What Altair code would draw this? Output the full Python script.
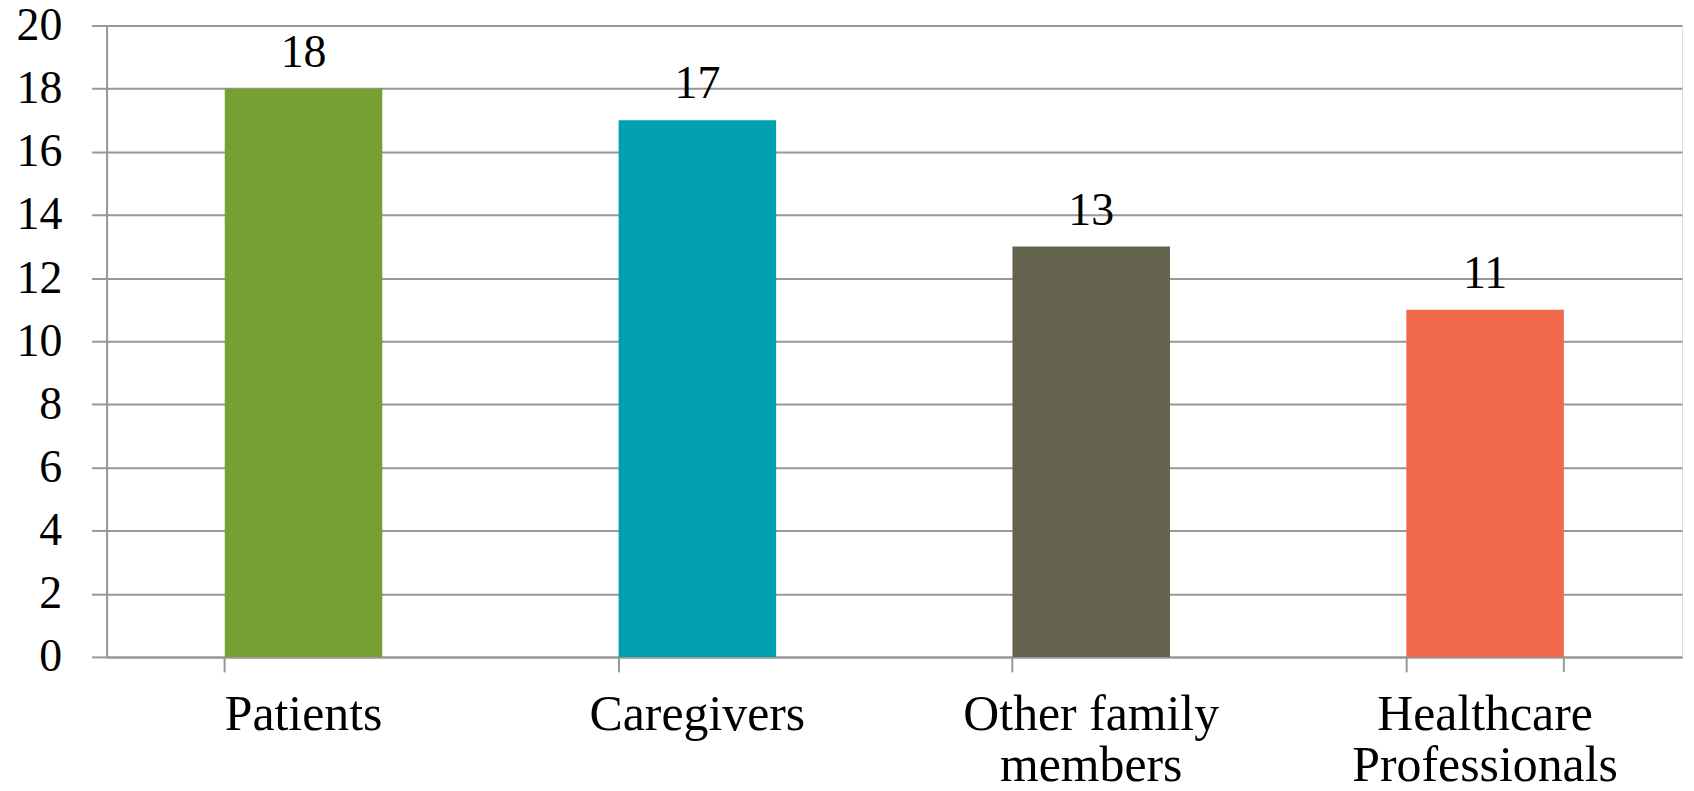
import altair as alt
import pandas as pd

categories = ["Patients", "Caregivers", "Other family members", "Healthcare Professionals"]
values = [18, 17, 13, 11]
colors = ["#77A033", "#00A0B0", "#64644E", "#F0694B"]
y_ticks = [0, 2, 4, 6, 8, 10, 12, 14, 16, 18, 20]

df = pd.DataFrame({"cat": categories, "val": values})

FONT = "Liberation Serif"
GRID = "#979797"

label_expr = (
    "datum.label == 'Other family members' ? ['Other family', 'members'] : "
    "datum.label == 'Healthcare Professionals' ? ['Healthcare', 'Professionals'] : datum.label"
)

x_enc = alt.X(
    "cat:N",
    sort=categories,
    title=None,
    scale=alt.Scale(paddingInner=0.6, paddingOuter=0.3),
    axis=alt.Axis(
        labelAngle=0,
        labelFont=FONT,
        labelFontSize=50,
        labelColor="#000000",
        labelExpr=label_expr,
        labelLineHeight=51,
        labelBaseline="top",
        labelPadding=18,
        labelLimit=600,
        tickSize=15,
        tickColor=GRID,
        tickWidth=2,
        bandPosition=0,
        domainColor=GRID,
        domainWidth=2,
        grid=False,
    ),
)

y_enc = alt.Y(
    "val:Q",
    title=None,
    scale=alt.Scale(domain=[0, 20], nice=False),
    axis=alt.Axis(
        values=y_ticks,
        labelFont=FONT,
        labelFontSize=46,
        labelColor="#000000",
        labelPadding=30,
        tickSize=15,
        tickColor=GRID,
        tickWidth=2,
        domainColor=GRID,
        domainWidth=2,
        gridColor=GRID,
        gridWidth=2,
        gridOpacity=1,
    ),
)

bars = alt.Chart(df).mark_bar().encode(
    x=x_enc,
    y=y_enc,
    color=alt.Color("cat:N", sort=categories,
                    scale=alt.Scale(domain=categories, range=colors), legend=None),
)

texts = alt.Chart(df).mark_text(
    baseline="alphabetic", dy=-22, font=FONT, fontSize=46, color="#000000"
).encode(
    x=alt.X("cat:N", sort=categories),
    y="val:Q",
    text="val:Q",
)

end_tick = alt.Chart(df.tail(1)).mark_rule(
    color=GRID, strokeWidth=2, y2Offset=15, clip=False
).encode(
    x=alt.X("cat:N", sort=categories, bandPosition=1),
    y=alt.datum(0),
    y2=alt.datum(0),
)

chart = alt.layer(bars, texts, end_tick).properties(
    width=1582,
    height=634,
    padding={"left": 99, "top": 16, "right": 4, "bottom": 125},
    autosize=alt.AutoSizeParams(type="none"),
).configure_view(stroke=None).configure(background="white")

chart.save("out.html", embed_options={"renderer": "svg", "actions": False})
